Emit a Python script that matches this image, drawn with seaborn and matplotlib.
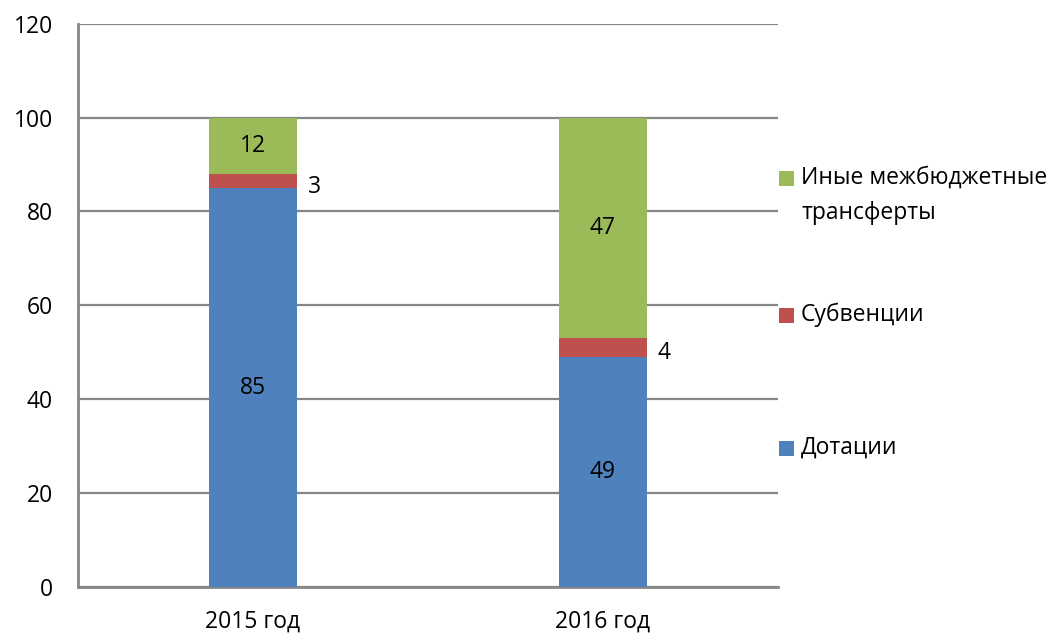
import numpy as np
import pandas as pd
import matplotlib
matplotlib.use("Agg")
import matplotlib.pyplot as plt
import seaborn as sns
from matplotlib.patches import Rectangle

# ── данные ────────────────────────────────────────────
years = ["2015 год", "2016 год"]
dotacii = [85, 49]
subvencii = [3, 4]
inye = [12, 47]

series_names = ["Дотации", "Субвенции", "Иные межбюджетные\nтрансферты"]
colors = ["#4F81BD", "#C0504D", "#9BBB59"]

df = pd.DataFrame({"year": years, "d": dotacii, "s": subvencii, "i": inye})
df["ds"] = df["d"] + df["s"]
df["dsi"] = df["ds"] + df["i"]

sns.set_style("white")
plt.rcParams["font.family"] = ["Open Sans", "DejaVu Sans"]
plt.rcParams["text.color"] = "black"
plt.rcParams["xtick.color"] = "black"
plt.rcParams["ytick.color"] = "black"
grid_col = "#868686"

fig = plt.figure(figsize=(10.49, 6.35), dpi=100)
ax = fig.add_axes([0.0744, 0.0756, 0.667, 0.887])

# стек: рисуем накопленные суммы сверху вниз
sns.barplot(data=df, x="year", y="dsi", color=colors[2], width=0.25,
            saturation=1, linewidth=0, ax=ax, zorder=3)
sns.barplot(data=df, x="year", y="ds", color=colors[1], width=0.25,
            saturation=1, linewidth=0, ax=ax, zorder=3)
sns.barplot(data=df, x="year", y="d", color=colors[0], width=0.25,
            saturation=1, linewidth=0, ax=ax, zorder=3)

# подписи значений
fs = 16.5
for i in range(len(years)):
    ax.text(i, dotacii[i] / 2, str(dotacii[i]), ha="center", va="center", fontsize=fs, zorder=4)
    ax.text(i, dotacii[i] + subvencii[i] + inye[i] / 2, str(inye[i]), ha="center", va="center",
            fontsize=fs, zorder=4)
    ax.annotate(str(subvencii[i]), xy=(i + 0.125, dotacii[i] + subvencii[i] / 2),
                xytext=(8, -4), textcoords="offset points", ha="left", va="center",
                fontsize=fs, zorder=4)

ax.set_ylim(0, 120)
ax.set_xlim(-0.5, 1.5)
ax.set_yticks(np.arange(0, 121, 20))
ax.yaxis.grid(True, color=grid_col, linewidth=1.6, zorder=0)
ax.set_axisbelow(True)
ax.set_xlabel("")
ax.set_ylabel("")
ax.tick_params(axis="both", length=0, labelsize=fs)
ax.tick_params(axis="y", pad=18)
ax.tick_params(axis="x", pad=16)
for s in ["top", "right"]:
    ax.spines[s].set_visible(False)
for s in ["left", "bottom"]:
    ax.spines[s].set_color(grid_col)
    ax.spines[s].set_linewidth(2)

# легенда справа (маркер у первой строки подписи)
W, H = 1049, 635
leg_y = [448, 315, 178]  # центры маркеров, px сверху
for name, c, y in zip(series_names, colors, leg_y):
    fig.patches.append(Rectangle((779 / W, 1 - (y + 7.5) / H), 15 / W, 15 / H,
                                 transform=fig.transFigure, facecolor=c,
                                 edgecolor="none"))
    first, *rest = name.split("\n")
    fig.text(801 / W, 1 - y / H, first, ha="left", va="center", fontsize=fs)
    for k, line in enumerate(rest, 1):
        fig.text(801 / W, 1 - (y + 35 * k) / H, line, ha="left", va="center", fontsize=fs)

fig.savefig("out.png", dpi=100)
